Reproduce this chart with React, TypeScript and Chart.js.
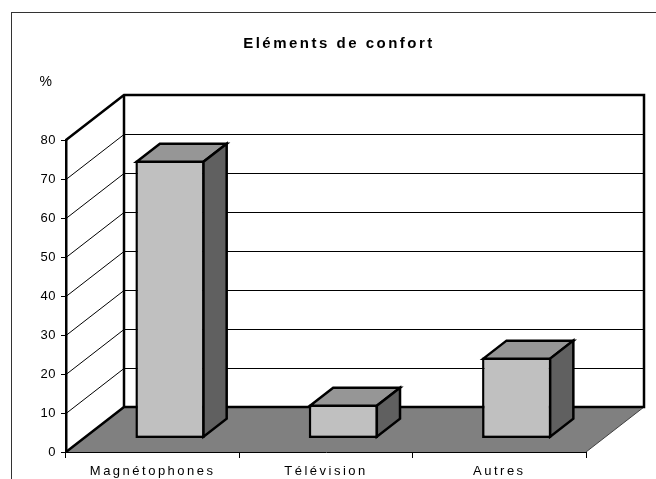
import { useEffect, useRef } from 'react';
import { Chart, registerables } from 'chart.js';

Chart.register(...registerables);

// ---- data ----
const TITLE = 'Eléments de confort';
const UNIT_LABEL = '%';
const categories = ['Magnétophones', 'Télévision', 'Autres'];
const values = [71.3, 8.7, 20.8];
const yMin = 0;
const yMax = 80;
const yStep = 10;

// ---- style / layout ----
const FONT = "'Liberation Sans', Arial, sans-serif";
const DX = 58; // depth offset of the 3D box
const DY = -45;
const BAR_FRONT = 0.3; // bar starts at this fraction of the depth
const BAR_BACK = 0.7;
const BAR_BORDER = 2.5;
const C_FRONT = '#c0c0c0';
const C_TOP = '#969696';
const C_SIDE = '#606060';
const C_FLOOR = '#808080';

function poly(ctx: CanvasRenderingContext2D, pts: number[][]) {
  ctx.beginPath();
  ctx.moveTo(pts[0][0], pts[0][1]);
  for (let i = 1; i < pts.length; i++) ctx.lineTo(pts[i][0], pts[i][1]);
  ctx.closePath();
}

const threeD = {
  id: 'threeD',
  beforeDraw(chart: any) {
    const { ctx, chartArea: a, scales } = chart;
    const y = scales.y;
    const L = a.left, R = a.right, T = a.top, B = a.bottom;
    ctx.letterSpacing = '2.5px';
    ctx.save();
    // back wall
    ctx.fillStyle = '#ffffff';
    ctx.fillRect(L + DX, T + DY, R - L, B - T);
    // floor
    ctx.fillStyle = C_FLOOR;
    poly(ctx, [[L, B], [R, B], [R + DX, B + DY], [L + DX, B + DY]]);
    ctx.fill();
    ctx.lineWidth = 1;
    ctx.strokeStyle = '#404040';
    ctx.beginPath();
    ctx.moveTo(R, B);
    ctx.lineTo(R + DX, B + DY);
    ctx.stroke();
    // gridlines on back wall + left wall
    ctx.strokeStyle = '#000000';
    ctx.lineWidth = 1;
    for (const t of y.ticks) {
      if (t.value <= y.min || t.value >= y.max) continue;
      const py = Math.round(y.getPixelForValue(t.value)) + 0.5;
      ctx.beginPath();
      ctx.moveTo(L + DX, py + DY);
      ctx.lineTo(R + DX, py + DY);
      ctx.stroke();
      ctx.beginPath();
      ctx.moveTo(L, py);
      ctx.lineTo(L + DX, py + DY);
      ctx.stroke();
    }
    // thick edges
    ctx.lineWidth = 2.5;
    ctx.lineJoin = 'miter';
    ctx.beginPath();
    ctx.moveTo(L, T);
    ctx.lineTo(L + DX, T + DY);
    ctx.lineTo(R + DX, T + DY);
    ctx.lineTo(R + DX, B + DY);
    ctx.lineTo(L + DX, B + DY);
    ctx.lineTo(L, B);
    ctx.stroke();
    ctx.beginPath();
    ctx.moveTo(L + DX, T + DY);
    ctx.lineTo(L + DX, B + DY);
    ctx.stroke();
    ctx.restore();
  },
  beforeDatasetsDraw(chart: any) {
    const ctx = chart.ctx;
    ctx.save();
    ctx.translate(DX * BAR_FRONT, DY * BAR_FRONT);
  },
  afterDatasetsDraw(chart: any) {
    const ctx = chart.ctx;
    ctx.restore();
    const fx = DX * BAR_FRONT, fy = DY * BAR_FRONT;
    const bdx = DX * (BAR_BACK - BAR_FRONT), bdy = DY * (BAR_BACK - BAR_FRONT);
    const meta = chart.getDatasetMeta(0);
    ctx.save();
    ctx.lineWidth = BAR_BORDER;
    ctx.strokeStyle = '#000000';
    ctx.lineJoin = 'miter';
    const h = BAR_BORDER / 2;
    for (const el of meta.data) {
      const p = el.getProps(['x', 'y', 'base', 'width'], true);
      const left = p.x - p.width / 2 + fx + h;
      const right = p.x + p.width / 2 + fx - h;
      const top = Math.min(p.y, p.base) + fy + h;
      const bottom = Math.max(p.y, p.base) + fy - h;
      // top face
      ctx.fillStyle = C_TOP;
      poly(ctx, [[left, top], [right, top], [right + bdx, top + bdy], [left + bdx, top + bdy]]);
      ctx.fill();
      ctx.stroke();
      // side face
      ctx.fillStyle = C_SIDE;
      poly(ctx, [[right, top], [right + bdx, top + bdy], [right + bdx, bottom + bdy], [right, bottom]]);
      ctx.fill();
      ctx.stroke();
    }
    ctx.restore();
    ctx.letterSpacing = '0.5px';
  },
  afterDraw(chart: any) {
    const { ctx, chartArea: a } = chart;
    ctx.save();
    ctx.fillStyle = '#000000';
    ctx.font = `14px ${FONT}`;
    ctx.textAlign = 'center';
    ctx.textBaseline = 'middle';
    ctx.fillText(UNIT_LABEL, a.left - 20, a.top - 58);
    ctx.restore();
    ctx.letterSpacing = '0px';
  },
};

export default function App() {
  const ref = useRef<HTMLCanvasElement | null>(null);

  useEffect(() => {
    if (!ref.current) return;
    const chart = new Chart(ref.current, {
      type: 'bar',
      data: {
        labels: categories,
        datasets: [
          {
            data: values,
            backgroundColor: C_FRONT,
            borderColor: '#000000',
            borderWidth: BAR_BORDER,
            borderSkipped: false,
            barPercentage: 0.4,
            categoryPercentage: 1,
          },
        ],
      },
      options: {
        animation: false,
        responsive: false,
        devicePixelRatio: 1,
        layout: { padding: { left: 22, right: 0, top: 0, bottom: 0 } },
        plugins: {
          legend: { display: false },
          tooltip: { enabled: false },
          title: {
            display: true,
            text: TITLE,
            color: '#000000',
            font: { family: FONT, size: 15, weight: 'bold' },
            padding: { top: 35, bottom: 87 },
          },
        },
        scales: {
          x: {
            type: 'category',
            offset: true,
            grid: {
              display: true,
              drawOnChartArea: false,
              drawTicks: true,
              tickLength: 6,
              color: '#000000',
              offset: true,
            },
            border: { display: true, color: '#000000', width: 1 },
            ticks: {
              color: '#000000',
              font: { family: FONT, size: 13 },
              padding: 6,
              autoSkip: false,
              maxRotation: 0,
            },
            afterFit: (s: any) => {
              s.height = 27;
            },
          },
          y: {
            type: 'linear',
            position: 'left',
            min: yMin,
            max: yMax,
            grid: {
              drawOnChartArea: false,
              drawTicks: true,
              tickLength: 5,
              color: '#000000',
            },
            border: { display: true, color: '#000000', width: 2.5 },
            ticks: {
              stepSize: yStep,
              color: '#000000',
              font: { family: FONT, size: 13 },
              padding: 5,
              z: 1,
            },
            afterFit: (s: any) => {
              s.width = 44;
            },
          },
          y2: {
            type: 'linear',
            position: 'right',
            display: true,
            grid: { display: false },
            border: { display: false },
            ticks: { display: false },
            afterFit: (s: any) => {
              s.width = 70;
            },
          },
        },
      },
      plugins: [threeD],
    } as any);
    return () => chart.destroy();
  }, []);

  return (
    <div
      style={{
        position: 'fixed',
        left: 0,
        top: 0,
        width: 656,
        height: 479,
        overflow: 'hidden',
        background: '#ffffff',
      }}
    >
      <div
        style={{
          position: 'absolute',
          left: 11,
          top: 12,
          width: 700,
          height: 520,
          border: '1px solid #333333',
        }}
      />
      <canvas
        ref={ref}
        width={656}
        height={479}
        style={{ position: 'absolute', left: 0, top: 0, width: 656, height: 479 }}
      />
    </div>
  );
}
